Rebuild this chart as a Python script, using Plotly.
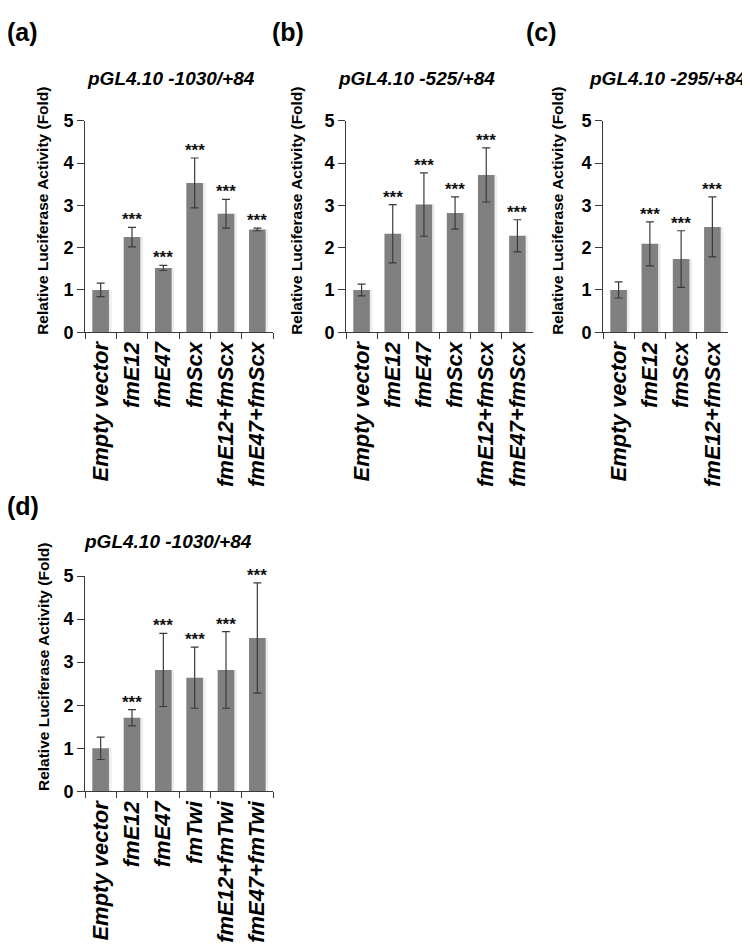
import plotly.graph_objects as go

# ---------------- data ----------------
cats_a = ["Empty vector", "fmE12", "fmE47", "fmScx", "fmE12+fmScx", "fmE47+fmScx"]
vals_a = [1.00, 2.25, 1.52, 3.53, 2.80, 2.43]
err_a = [0.16, 0.23, 0.06, 0.59, 0.34, 0.03]
sig_a = ["", "***", "***", "***", "***", "***"]

cats_b = ["Empty vector", "fmE12", "fmE47", "fmScx", "fmE12+fmScx", "fmE47+fmScx"]
vals_b = [1.00, 2.33, 3.02, 2.82, 3.72, 2.28]
err_b = [0.14, 0.69, 0.75, 0.38, 0.64, 0.38]
sig_b = ["", "***", "***", "***", "***", "***"]

cats_c = ["Empty vector", "fmE12", "fmScx", "fmE12+fmScx"]
vals_c = [1.00, 2.09, 1.73, 2.49]
err_c = [0.19, 0.52, 0.67, 0.71]
sig_c = ["", "***", "***", "***"]

cats_d = ["Empty vector", "fmE12", "fmE47", "fmTwi", "fmE12+fmTwi", "fmE47+fmTwi"]
vals_d = [1.00, 1.71, 2.82, 2.64, 2.82, 3.56]
err_d = [0.26, 0.19, 0.85, 0.71, 0.89, 1.28]
sig_d = ["", "***", "***", "***", "***", "***"]

titles = ["pGL4.10 -1030/+84", "pGL4.10 -525/+84", "pGL4.10 -295/+84", "pGL4.10 -1030/+84"]
panel_labels = ["(a)", "(b)", "(c)", "(d)"]
y_title = "Relative Luciferase Activity (Fold)"
y_ticks = [0, 1, 2, 3, 4, 5]

# ---------------- layout geometry (pixels) ----------------
W, H = 750, 950
FONT = "Arial, 'Liberation Sans', sans-serif"
BAR = "#808080"
AX = "#3a3a3a"

def px_x(p):
    return p / W

def px_y(p):
    return 1 - p / H

panels = [
    dict(cats=cats_a, vals=vals_a, errs=err_a, sig=sig_a, x0=77, x1=265, ytop=105, ybot=321,
         tx=163, tanchor="center", ty=62, lx=-3, ly=14, yt_x=35, yt_y=197),
    dict(cats=cats_b, vals=vals_b, errs=err_b, sig=sig_b, x0=338, x1=525, ytop=105, ybot=321,
         tx=408, tanchor="center", ty=62, lx=262, ly=14, yt_x=289, yt_y=197),
    dict(cats=cats_c, vals=vals_c, errs=err_c, sig=sig_c, x0=595, x1=720, ytop=105, ybot=321,
         tx=740, tanchor="right", ty=62, lx=516, ly=14, yt_x=550, yt_y=197),
    dict(cats=cats_d, vals=vals_d, errs=err_d, sig=sig_d, x0=77, x1=265, ytop=570, ybot=790,
         tx=160, tanchor="center", ty=535, lx=-3, ly=499, yt_x=35, yt_y=663),
]

fig = go.Figure()
annotations = []
layout_axes = {}

for i, p in enumerate(panels):
    n = "" if i == 0 else str(i + 1)
    xa, ya = "x" + n, "y" + n
    # soft shadow
    fig.add_trace(go.Bar(
        x=p["cats"], y=p["vals"], xaxis=xa, yaxis=ya,
        width=0.62, offset=-0.27,
        marker=dict(color="rgba(0,0,0,0.07)", line=dict(width=0)),
        hoverinfo="skip", showlegend=False))
    # main bars
    fig.add_trace(go.Bar(
        x=p["cats"], y=p["vals"], xaxis=xa, yaxis=ya,
        width=0.53,
        marker=dict(color=BAR, line=dict(width=0)),
        error_y=dict(type="data", array=p["errs"], visible=True,
                     color=AX, thickness=1.2, width=4),
        showlegend=False))
    # significance stars
    for c, v, e, s in zip(p["cats"], p["vals"], p["errs"], p["sig"]):
        if s:
            annotations.append(dict(
                x=c, y=v + e, xref=xa, yref=ya, text="<b>" + s + "</b>", showarrow=False,
                xanchor="center", yanchor="bottom", yshift=-4,
                font=dict(family=FONT, size=17, color="#111")))
    layout_axes["xaxis" + n] = dict(
        domain=[px_x(p["x0"]), px_x(p["x1"])], anchor=ya,
        type="category", range=[-0.5, len(p["cats"]) - 0.5],
        showline=True, linecolor=AX, linewidth=1,
        ticks="outside", tickson="boundaries", ticklen=6, tickcolor=AX, tickwidth=1,
        tickangle=-90, showgrid=False, zeroline=False,
        tickfont=dict(family=FONT, size=22, color="#000", weight="bold", style="italic"))
    layout_axes["yaxis" + n] = dict(
        domain=[px_y(p["ybot"]), px_y(p["ytop"])], anchor=xa,
        range=[0, 5], tickvals=y_ticks, ticktext=[str(t) for t in y_ticks],
        showline=True, linecolor=AX, linewidth=1,
        ticks="outside", ticklen=7, tickcolor=AX, tickwidth=1,
        showgrid=False, zeroline=False,
        tickfont=dict(family=FONT, size=18, color="#000", weight="bold"))
    # titles
    annotations.append(dict(
        x=px_x(p["tx"]), y=px_y(p["ty"]), xref="paper", yref="paper",
        text="<b><i>" + titles[i] + "</i></b>", showarrow=False,
        xanchor=p["tanchor"], yanchor="middle",
        font=dict(family=FONT, size=19, color="#000")))
    # panel labels
    annotations.append(dict(
        x=px_x(p["lx"]), y=px_y(p["ly"]), xref="paper", yref="paper",
        text="<b>" + panel_labels[i] + "</b>", showarrow=False, xanchor="left", yanchor="middle",
        font=dict(family=FONT, size=25, color="#000")))
    # y-axis titles
    annotations.append(dict(
        x=px_x(p["yt_x"]), y=px_y(p["yt_y"]), xref="paper", yref="paper",
        text="<b>" + y_title + "</b>", showarrow=False, textangle=-90,
        xanchor="center", yanchor="middle",
        font=dict(family=FONT, size=15.5, color="#000")))

fig.update_layout(
    width=W, height=H,
    margin=dict(l=0, r=0, t=0, b=0),
    paper_bgcolor="white", plot_bgcolor="white",
    barmode="overlay", showlegend=False,
    annotations=annotations,
    **layout_axes)

fig.write_html("out.html")
